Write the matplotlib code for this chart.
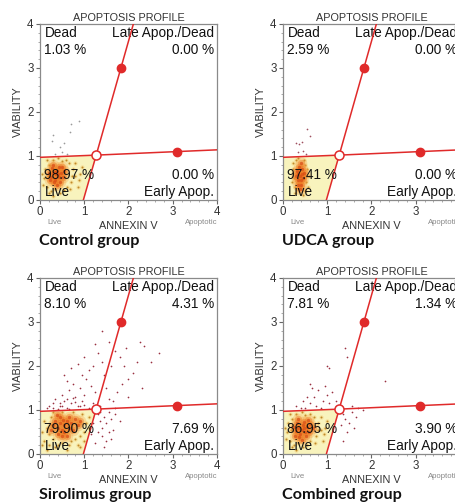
import matplotlib
matplotlib.use("Agg")
import matplotlib.pyplot as plt
from matplotlib.ticker import MultipleLocator

# ---------------- data ----------------
group_names = ["Control group", "UDCA group", "Sirolimus group", "Combined group"]
pct_dead = ["1.03 %", "2.59 %", "8.10 %", "7.81 %"]
pct_late = ["0.00 %", "0.00 %", "4.31 %", "1.34 %"]
pct_live = ["98.97 %", "97.41 %", "79.90 %", "86.95 %"]
pct_early = ["0.00 %", "0.00 %", "7.69 %", "3.90 %"]

# gate geometry (data units)
gate_center = (1.27, 1.02)
gate_h_left = (0.0, 0.97)
gate_h_right = (4.0, 1.14)
gate_v_bottom = (0.98, 0.0)
gate_v_top = (2.11, 4.0)
handle_points_x = [1.83, 3.1]
handle_points_y = [3.0, 1.1]

# events: control
ctrl_core_x = [0.36, 0.3, 0.43, 0.39, 0.25, 0.48, 0.34, 0.42, 0.28, 0.52, 0.32, 0.45, 0.2, 0.55, 0.38, 0.23, 0.5, 0.3, 0.41, 0.35]
ctrl_core_y = [0.58, 0.62, 0.52, 0.67, 0.52, 0.62, 0.46, 0.74, 0.72, 0.52, 0.4, 0.42, 0.62, 0.66, 0.35, 0.45, 0.76, 0.8, 0.6, 0.64]
ctrl_halo_x = [0.1, 0.15, 0.2, 0.25, 0.7, 0.75, 0.8, 0.65, 0.3, 0.5, 0.12, 0.85, 0.68, 0.2, 0.45, 0.9, 0.07, 0.58, 0.78, 0.35, 0.55, 0.18, 0.72, 0.6, 0.4, 0.88, 0.15, 0.05, 0.95, 0.3]
ctrl_halo_y = [0.5, 0.3, 0.8, 0.2, 0.4, 0.7, 0.55, 0.85, 0.9, 0.88, 0.7, 0.3, 0.25, 0.15, 0.15, 0.6, 0.35, 0.92, 0.85, 0.25, 0.22, 0.55, 0.55, 0.3, 0.95, 0.45, 0.9, 0.6, 0.75, 0.1]
ctrl_sparse_x = [0.3, 0.55, 0.7, 0.88, 0.45, 0.35, 0.6, 0.28, 0.68, 0.5]
ctrl_sparse_y = [1.48, 1.3, 1.72, 1.8, 1.2, 1.05, 1.05, 1.35, 1.55, 1.1]

# events: UDCA
udca_core_x = [0.38, 0.35, 0.42, 0.32, 0.4, 0.45, 0.36, 0.3, 0.43, 0.38, 0.33, 0.47, 0.4, 0.35, 0.41]
udca_core_y = [0.55, 0.45, 0.6, 0.65, 0.35, 0.5, 0.75, 0.55, 0.7, 0.25, 0.35, 0.62, 0.85, 0.6, 0.45]
udca_halo_x = [0.25, 0.52, 0.55, 0.22, 0.28, 0.5, 0.3, 0.48, 0.2, 0.58, 0.27, 0.45, 0.5, 0.23, 0.56, 0.35]
udca_halo_y = [0.5, 0.4, 0.7, 0.7, 0.3, 0.2, 0.9, 0.9, 0.4, 0.55, 0.15, 0.12, 0.8, 0.85, 0.3, 0.95]
udca_sparse_x = [0.3, 0.36, 0.42, 0.55, 0.6, 0.45, 0.35, 0.52]
udca_sparse_y = [1.3, 1.28, 1.32, 1.62, 1.45, 1.12, 1.1, 1.05]

# events: sirolimus
siro_core_x = [0.55, 0.45, 0.65, 0.5, 0.6, 0.4, 0.7, 0.35, 0.75, 0.55, 0.45, 0.65, 0.3, 0.85, 0.5, 0.8, 0.25, 0.6, 0.4, 0.9, 0.53, 0.38]
siro_core_y = [0.65, 0.7, 0.6, 0.55, 0.75, 0.6, 0.7, 0.75, 0.55, 0.5, 0.85, 0.85, 0.65, 0.65, 0.4, 0.8, 0.55, 0.4, 0.45, 0.75, 0.78, 0.88]
siro_halo_x = [0.1, 0.2, 0.15, 0.25, 0.3, 0.4, 0.5, 0.7, 0.8, 0.9, 1.0, 1.05, 1.1, 0.95, 0.2, 0.1, 0.05, 0.35, 0.6, 0.85, 0.3, 0.75, 0.5, 1.0, 0.15, 0.65, 1.1, 0.25, 0.05, 0.9]
siro_halo_y = [0.3, 0.2, 0.6, 0.85, 0.35, 0.2, 0.25, 0.3, 0.35, 0.4, 0.5, 0.7, 0.85, 0.9, 0.45, 0.75, 0.5, 0.15, 0.1, 0.2, 0.95, 0.95, 0.95, 0.3, 0.1, 0.2, 0.6, 0.65, 0.2, 0.15]
siro_sparse_x = [0.3, 0.45, 0.55, 0.6, 0.7, 0.8, 0.85, 0.95, 0.4, 0.5, 0.65, 0.75, 0.9, 1.0, 1.05, 1.1, 0.95, 1.15, 1.2, 1.25,
                 1.2, 1.1, 0.7, 0.85, 1.0, 1.3, 1.4, 1.45, 1.5, 1.55, 1.35, 1.6, 1.7, 1.8, 1.9, 2.0, 1.85, 2.1, 2.2, 2.25,
                 2.35, 2.5, 2.7, 2.0, 1.75, 1.65, 2.3, 1.95, 1.55, 1.25, 0.6, 0.35, 0.2, 0.55, 1.7, 1.4,
                 1.3, 1.35, 1.4, 1.45, 1.5, 1.55, 1.6, 1.3, 1.4, 1.5, 1.25, 1.65, 1.7, 1.45, 1.2, 1.15, 1.35, 1.55, 1.8, 1.6,
                 0.5, 0.65, 0.8, 0.9, 1.0, 0.6, 0.75, 0.45, 0.3, 0.15]
siro_sparse_y = [1.05, 1.1, 1.2, 1.05, 1.15, 1.3, 1.1, 1.2, 1.02, 1.35, 1.45, 1.6, 1.5, 1.35, 1.7, 1.9, 1.8, 1.55, 2.0, 1.4,
                 1.15, 1.05, 1.95, 2.05, 2.2, 2.3, 2.1, 1.8, 1.5, 1.25, 1.1, 2.0, 2.35, 2.2, 2.0, 1.7, 1.6, 1.85, 2.1, 2.55,
                 2.45, 2.1, 2.3, 1.3, 1.4, 1.2, 1.5, 2.4, 2.55, 2.5, 1.65, 1.25, 1.1, 1.8, 1.05, 2.8,
                 0.9, 0.75, 0.6, 0.85, 0.7, 0.95, 0.8, 0.5, 0.4, 0.3, 0.25, 0.55, 0.9, 0.15, 0.7, 0.45, 0.95, 0.5, 0.75, 0.35,
                 1.08, 1.02, 1.18, 1.08, 1.12, 1.25, 1.28, 1.15, 1.15, 1.05]

# events: combined
comb_core_x = [0.42, 0.35, 0.49, 0.45, 0.29, 0.55, 0.39, 0.47, 0.32, 0.59, 0.37, 0.52, 0.25, 0.62, 0.43, 0.27, 0.57, 0.35, 0.47, 0.67]
comb_core_y = [0.55, 0.6, 0.5, 0.66, 0.52, 0.62, 0.45, 0.72, 0.7, 0.5, 0.38, 0.4, 0.62, 0.68, 0.32, 0.42, 0.78, 0.8, 0.58, 0.58]
comb_halo_x = [0.1, 0.15, 0.2, 0.25, 0.75, 0.8, 0.85, 0.7, 0.3, 0.5, 0.12, 0.9, 0.72, 0.2, 0.45, 0.95, 0.07, 0.6, 0.85, 0.35, 0.55, 0.18, 0.78, 0.62, 0.42, 0.92, 0.15, 0.05, 1.0, 0.3]
comb_halo_y = [0.5, 0.3, 0.8, 0.2, 0.4, 0.7, 0.55, 0.85, 0.9, 0.88, 0.7, 0.3, 0.25, 0.15, 0.15, 0.6, 0.35, 0.92, 0.85, 0.25, 0.2, 0.55, 0.55, 0.3, 0.95, 0.45, 0.9, 0.6, 0.75, 0.1]
comb_sparse_x = [0.5, 0.6, 0.7, 0.8, 0.9, 1.0, 0.55, 0.65, 0.75, 0.85, 0.95, 1.05, 1.1, 0.45, 0.4, 1.0, 1.05, 1.4, 1.45, 2.3,
                 1.2, 1.35, 1.4, 1.5, 1.55, 1.6, 1.45, 1.3, 1.65, 1.35, 1.7, 1.8, 1.25, 0.3, 0.6, 1.55]
comb_sparse_y = [1.05, 1.15, 1.3, 1.45, 1.2, 1.35, 1.3, 1.5, 1.1, 1.05, 1.55, 1.15, 1.4, 1.2, 1.05, 2.0, 1.95, 2.4, 2.2, 1.65,
                 1.2, 0.9, 0.8, 0.7, 0.95, 0.6, 0.5, 0.65, 0.85, 0.3, 1.05, 1.0, 1.1, 1.1, 1.6, 1.1]

events = [
    (ctrl_core_x, ctrl_core_y, ctrl_halo_x, ctrl_halo_y, ctrl_sparse_x, ctrl_sparse_y, "#9a9a9a"),
    (udca_core_x, udca_core_y, udca_halo_x, udca_halo_y, udca_sparse_x, udca_sparse_y, "#a05060"),
    (siro_core_x, siro_core_y, siro_halo_x, siro_halo_y, siro_sparse_x, siro_sparse_y, "#9a3040"),
    (comb_core_x, comb_core_y, comb_halo_x, comb_halo_y, comb_sparse_x, comb_sparse_y, "#9a3040"),
]

ticks = [0, 1, 2, 3, 4]

# ---------------- figure ----------------
W, H = 456, 503
fig = plt.figure(figsize=(W / 100, H / 100), dpi=100)
fig.patch.set_facecolor("white")

FONT = ["Liberation Sans", "DejaVu Sans"]
RED = "#e02a2a"
GRAY = "#333333"

# panel positions (pixel left, pixel top)
panel_px = [(40, 24), (283, 24), (40, 278), (283, 278)]
AW, AH = 177, 176

for i, (lx, ty) in enumerate(panel_px):
    ax = fig.add_axes([lx / W, (H - ty - AH) / H, AW / W, AH / H])
    ax.set_xlim(0, 4)
    ax.set_ylim(0, 4)

    # live gate fill
    ax.fill([0, gate_h_left[0], gate_center[0], gate_v_bottom[0]],
            [0, gate_h_left[1], gate_center[1], gate_v_bottom[1]],
            color="#f8f3bd", zorder=0, lw=0)

    cx, cy, hx, hy, sx, sy, scol = events[i]
    ax.scatter(sx, sy, s=1.5, color=scol, lw=0, zorder=2)
    ax.scatter(hx, hy, s=10, color="#f2c060", alpha=0.35, lw=0, zorder=2)
    ax.scatter(hx, hy, s=2.0, color="#c08a28", lw=0, zorder=2)
    ax.scatter(cx, cy, s=70, color="#f5a040", alpha=0.30, lw=0, zorder=2)
    ax.scatter(cx, cy, s=28, color="#ee7a22", alpha=0.45, lw=0, zorder=3)
    ax.scatter(cx, cy, s=6, color="#d84a14", alpha=0.7, lw=0, zorder=3)

    # gate lines
    ax.plot([gate_h_left[0], gate_center[0], gate_h_right[0]],
            [gate_h_left[1], gate_center[1], gate_h_right[1]], color=RED, lw=1.1, zorder=4)
    ax.plot([gate_v_bottom[0], gate_center[0], gate_v_top[0]],
            [gate_v_bottom[1], gate_center[1], gate_v_top[1]], color=RED, lw=1.1, zorder=4)
    ax.plot(handle_points_x, handle_points_y, "o", color=RED, ms=6, zorder=5, clip_on=False)
    ax.plot([gate_center[0]], [gate_center[1]], "o", mfc="white", mec=RED, mew=1.1, ms=6.5, zorder=6)

    # quadrant texts
    tk = dict(fontsize=9.8, family=FONT, color="#111111")
    ax.text(0.025, 0.95, "Dead", transform=ax.transAxes, ha="left", va="center", **tk)
    ax.text(0.025, 0.852, pct_dead[i], transform=ax.transAxes, ha="left", va="center", **tk)
    ax.text(0.985, 0.95, "Late Apop./Dead", transform=ax.transAxes, ha="right", va="center", **tk)
    ax.text(0.985, 0.852, pct_late[i], transform=ax.transAxes, ha="right", va="center", **tk)
    ax.text(0.025, 0.142, pct_live[i], transform=ax.transAxes, ha="left", va="center", zorder=7, **tk)
    ax.text(0.025, 0.045, "Live", transform=ax.transAxes, ha="left", va="center", zorder=7, **tk)
    ax.text(0.985, 0.142, pct_early[i], transform=ax.transAxes, ha="right", va="center", **tk)
    ax.text(0.985, 0.045, "Early Apop.", transform=ax.transAxes, ha="right", va="center", **tk)

    # axes styling
    for sp in ax.spines.values():
        sp.set_color("#8a8a8a")
        sp.set_linewidth(0.9)
    ax.set_xticks(ticks)
    ax.set_yticks(ticks)
    ax.set_xticklabels([str(t) for t in ticks], fontsize=8.3, family=FONT, color=GRAY)
    ax.set_yticklabels([str(t) for t in ticks], fontsize=8.3, family=FONT, color=GRAY)
    ax.xaxis.set_minor_locator(MultipleLocator(0.2))
    ax.yaxis.set_minor_locator(MultipleLocator(0.2))
    ax.tick_params(which="major", length=3, width=0.8, color="#666666", pad=1.5)
    ax.tick_params(which="minor", length=1.5, width=0.5, color="#888888")

    ax.set_title("APOPTOSIS PROFILE", fontsize=7.8, family=FONT, color=GRAY, pad=2)
    ax.set_xlabel("ANNEXIN V", fontsize=7.8, family=FONT, color=GRAY, labelpad=2)
    ax.set_ylabel("VIABILITY", fontsize=7.8, family=FONT, color=GRAY, labelpad=3)

    # small end labels below x axis
    ax.text(0.04, -0.13, "Live", transform=ax.transAxes, ha="left", va="center",
            fontsize=5.6, family=FONT, color="#888888")
    ax.text(1.0, -0.13, "Apoptotic", transform=ax.transAxes, ha="right", va="center",
            fontsize=5.6, family=FONT, color="#888888")

    # group caption
    fig.text((lx - 1) / W, (H - (ty + AH + 41)) / H, group_names[i], ha="left", va="center",
             fontsize=11.6, fontweight="bold", family=["Lato", "DejaVu Sans"], color="#111111")

fig.savefig("out.png", dpi=100, facecolor="white")
